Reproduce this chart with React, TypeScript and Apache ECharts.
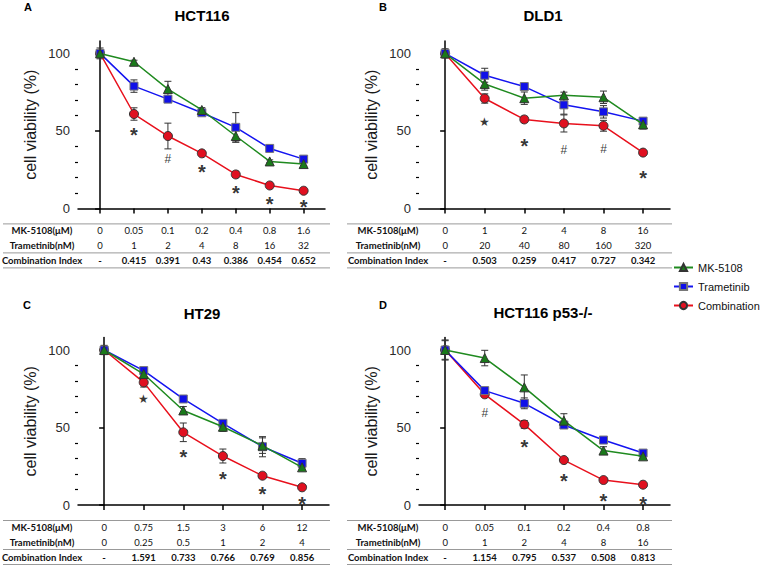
import React, { useEffect, useRef } from 'react';
import * as echarts from 'echarts';

const seriesNames = ['MK-5108', 'Trametinib', 'Combination'];
const panelLetters = ['A', 'B', 'C', 'D'];
const panelTitles = ['HCT116', 'DLD1', 'HT29', 'HCT116 p53-/-'];
const rowLabels = ['MK-5108(μM)', 'Trametinib(nM)', 'Combination Index'];
const yTickLabels = [0, 50, 100];
const yMinorTicks = [10, 20, 30, 40, 60, 70, 80, 90];

// Panel A: HCT116
const aMK = [100, 94.6, 77, 63.5, 46.7, 30.3, 28.6];
const aMKErr = [1, 1, 5, 1.5, 4, 1, 1];
const aTra = [100, 78.9, 70.5, 61.7, 52.3, 38.7, 31.8];
const aTraErr = [3.5, 4, 1.5, 1.5, 9.5, 2, 1.5];
const aCom = [100, 60.9, 46.7, 35.5, 21.9, 14.8, 11.4];
const aComErr = [1, 4, 8.3, 1, 2, 1, 1];
const aMarks = ['', '*', '#', '*', '*', '*', '*'];
const aMarkY = [0, 50.5, 31.6, 27, 13, 6, 4];
const aMKDoses = ['0', '0.05', '0.1', '0.2', '0.4', '0.8', '1.6'];
const aTraDoses = ['0', '1', '2', '4', '8', '16', '32'];
const aCI = ['-', '0.415', '0.391', '0.43', '0.386', '0.454', '0.652'];

// Panel B: DLD1
const bMK = [100, 80.3, 71.1, 73, 71.7, 54.2];
const bMKErr = [2, 4, 4, 2, 4, 3];
const bTra = [100, 85.9, 78.6, 66.8, 62.3, 56.3];
const bTraErr = [3, 4.5, 2, 6, 4, 2];
const bCom = [100, 70.9, 57.4, 54.8, 53.3, 36];
const bComErr = [1, 3, 2, 5.5, 3.5, 1];
const bMarks = ['', '★', '*', '#', '#', '*'];
const bMarkY = [0, 55.7, 43.5, 38, 38.5, 23];
const bMKDoses = ['0', '1', '2', '4', '8', '16'];
const bTraDoses = ['0', '20', '40', '80', '160', '320'];
const bCI = ['-', '0.503', '0.259', '0.417', '0.727', '0.342'];

// Panel C: HT29
const cMK = [100, 84.5, 61, 50.5, 38.3, 24.3];
const cMKErr = [1.5, 2, 2.5, 3, 5, 2];
const cTra = [100, 86.7, 68.4, 52.7, 37.6, 26.9];
const cTraErr = [3, 2, 2, 2, 6.5, 3];
const cCom = [100, 79.1, 46.9, 31.6, 18.9, 11.4];
const cComErr = [1, 3, 6, 4.5, 1.5, 1];
const cMarks = ['', '★', '*', '*', '*', '*'];
const cMarkY = [0, 68.2, 34.4, 19.8, 10.1, 3.7];
const cMKDoses = ['0', '0.75', '1.5', '3', '6', '12'];
const cTraDoses = ['0', '0.25', '0.5', '1', '2', '4'];
const cCI = ['-', '1.591', '0.733', '0.766', '0.769', '0.856'];

// Panel D: HCT116 p53-/-
const dMK = [100, 94.8, 75.9, 54.4, 35.1, 31.4];
const dMKErr = [6.5, 5, 8, 4.5, 2.5, 1.5];
const dTra = [100, 73.8, 65.6, 51.6, 41.9, 33.5];
const dTraErr = [6, 2, 3.5, 2, 1.5, 1.5];
const dCom = [100, 71.4, 52, 29, 16.1, 13.1];
const dComErr = [1, 1.5, 2.5, 1.5, 1.5, 1];
const dMarks = ['', '#', '*', '*', '*', '*'];
const dMarkY = [0, 59.6, 40.4, 18.7, 5.8, 3.7];
const dMKDoses = ['0', '0.05', '0.1', '0.2', '0.4', '0.8'];
const dTraDoses = ['0', '1', '2', '4', '8', '16'];
const dCI = ['-', '1.154', '0.795', '0.537', '0.508', '0.813'];

const panels = [
  { mk: aMK, mkErr: aMKErr, tra: aTra, traErr: aTraErr, com: aCom, comErr: aComErr, marks: aMarks, markY: aMarkY, mkDoses: aMKDoses, traDoses: aTraDoses, ci: aCI },
  { mk: bMK, mkErr: bMKErr, tra: bTra, traErr: bTraErr, com: bCom, comErr: bComErr, marks: bMarks, markY: bMarkY, mkDoses: bMKDoses, traDoses: bTraDoses, ci: bCI },
  { mk: cMK, mkErr: cMKErr, tra: cTra, traErr: cTraErr, com: cCom, comErr: cComErr, marks: cMarks, markY: cMarkY, mkDoses: cMKDoses, traDoses: cTraDoses, ci: cCI },
  { mk: dMK, mkErr: dMKErr, tra: dTra, traErr: dTraErr, com: dCom, comErr: dComErr, marks: dMarks, markY: dMarkY, mkDoses: dMKDoses, traDoses: dTraDoses, ci: dCI },
];

// layout (pixels)
const layout = [
  { left: 78, top: 41, width: 247, xMin: -0.65, xMax: 6.63, tableL: 3, tableR: 330, labelX: 42, letterX: 28, letterY: 7, titleX: 202, titleY: 15 },
  { left: 419, top: 41, width: 251, xMin: -0.66, xMax: 5.68, tableL: 347, tableR: 672, labelX: 388, letterX: 383, letterY: 7, titleX: 543, titleY: 15 },
  { left: 78, top: 337.6, width: 251, xMin: -0.66, xMax: 5.68, tableL: 3, tableR: 330, labelX: 42, letterX: 27, letterY: 305, titleX: 202, titleY: 313 },
  { left: 419, top: 337.6, width: 251, xMin: -0.66, xMax: 5.68, tableL: 347, tableR: 672, labelX: 388, letterX: 383, letterY: 305, titleX: 543, titleY: 312 },
];
const Y_MAX = 108;
const GRID_H = 167.4;

const lineColors = ['#1f8a1f', '#1414f0', '#e8101c'];
const fillColors = ['#1a7a1a', '#1010e8', '#e01020'];
const symbols = ['triangle', 'rect', 'circle'];
const FONT = '"Liberation Sans", Arial, sans-serif';
const TFONT = 'Lato, "Open Sans", sans-serif';

export default function App() {
  const ref = useRef<HTMLDivElement>(null);
  useEffect(() => {
    if (!ref.current) return;
    const chart = echarts.init(ref.current, undefined, { renderer: 'svg' });
    const grid: any[] = [];
    const xAxis: any[] = [];
    const yAxis: any[] = [];
    const series: any[] = [];
    panels.forEach((p, i) => {
      const L = layout[i];
      const n = p.mk.length;
      grid.push({ left: L.left, top: L.top, width: L.width, height: GRID_H, containLabel: false });
      xAxis.push({
        gridIndex: i, type: 'value', min: L.xMin, max: L.xMax,
        axisLine: { show: true, lineStyle: { color: '#000', width: 1.5 } },
        axisTick: { show: true, length: 5, customValues: Array.from({ length: n }, (_, k) => k), lineStyle: { color: '#000', width: 1.5 } },
        axisLabel: { show: false }, splitLine: { show: false },
      });
      yAxis.push({
        gridIndex: i, type: 'value', min: 0, max: Y_MAX, position: 'left',
        axisLine: { show: true, lineStyle: { color: '#000', width: 1.5 } },
        axisTick: { show: true, length: 5, customValues: yTickLabels, lineStyle: { color: '#000', width: 1.5 } },
        axisLabel: { show: true, customValues: yTickLabels, fontSize: 13, color: '#2a2a2a', margin: 8, fontFamily: FONT },
        splitLine: { show: false },
        name: 'cell viability (%)', nameLocation: 'middle', nameGap: 40,
        nameTextStyle: { fontSize: 16, color: '#1a1a1a', fontFamily: FONT },
      });
      yAxis.push({
        gridIndex: i, type: 'value', min: 0, max: Y_MAX, position: 'left',
        axisLine: { show: false },
        axisTick: { show: true, length: 3, customValues: yMinorTicks, lineStyle: { color: '#000', width: 1.2 } },
        axisLabel: { show: false }, splitLine: { show: false },
      });
      const vals = [p.mk, p.tra, p.com];
      const errs = [p.mkErr, p.traErr, p.comErr];
      // error bars
      [2, 1, 0].forEach((s) => {
        series.push({
          type: 'custom', xAxisIndex: i, yAxisIndex: 2 * i, z: 1, silent: true,
          data: vals[s].map((v, k) => [k, v - errs[s][k], v + errs[s][k]]),
          encode: { x: 0, y: [1, 2] },
          renderItem: (params: any, api: any) => {
            const x = api.value(0);
            const lo = api.coord([x, api.value(1)]);
            const hi = api.coord([x, api.value(2)]);
            const w = 3.5;
            const st = { stroke: '#333', lineWidth: 1 };
            return {
              type: 'group', children: [
                { type: 'line', shape: { x1: hi[0], y1: hi[1], x2: lo[0], y2: lo[1] }, style: st },
                { type: 'line', shape: { x1: hi[0] - w, y1: hi[1], x2: hi[0] + w, y2: hi[1] }, style: st },
                { type: 'line', shape: { x1: lo[0] - w, y1: lo[1], x2: lo[0] + w, y2: lo[1] }, style: st },
              ],
            };
          },
        });
      });
      // lines: red, blue, green order
      [2, 1, 0].forEach((s) => {
        series.push({
          type: 'line', name: seriesNames[s], xAxisIndex: i, yAxisIndex: 2 * i, z: 2 + (2 - s),
          data: vals[s].map((v, k) => [k, v]),
          symbol: symbols[s], symbolSize: s === 1 ? 8 : 9,
          lineStyle: { color: lineColors[s], width: 1.5 },
          itemStyle: { color: fillColors[s], borderColor: s === 1 ? '#777' : '#333', borderWidth: 1 },
        });
      });
      // significance marks
      series.push({
        type: 'scatter', xAxisIndex: i, yAxisIndex: 2 * i, z: 6, silent: true,
        symbolSize: 1, itemStyle: { color: 'rgba(0,0,0,0)' },
        data: p.marks.map((m, k) => (m ? {
          value: [k, p.markY[k], m],
          label: m === '*' ? { fontSize: 20, fontWeight: 'bold', offset: [0, 5] } : m === '★' ? { fontSize: 12 } : { fontSize: 12 },
        } : null)).filter((d) => d),
        label: { show: true, position: 'inside', color: '#000', fontFamily: FONT, formatter: (q: any) => q.value[2] },
      });
    });

    chart.setOption({
      animation: false,
      backgroundColor: '#fff',
      grid, xAxis, yAxis, series,
      legend: {
        orient: 'vertical', left: 673, top: 262, itemWidth: 19, itemHeight: 9, itemGap: 8, padding: 0,
        data: seriesNames, selectedMode: false,
        textStyle: { fontSize: 11, color: '#111', fontFamily: FONT },
      },
    });

    const graphic: any[] = [];
    panels.forEach((p, i) => {
      const L = layout[i];
      graphic.push({ type: 'text', x: L.letterX, y: L.letterY, style: { text: panelLetters[i], font: `bold 11px ${FONT}`, fill: '#000', textAlign: 'center', textVerticalAlign: 'middle', align: 'center', verticalAlign: 'middle' } });
      graphic.push({ type: 'text', x: L.titleX, y: L.titleY, style: { text: panelTitles[i], font: `bold 15px ${FONT}`, fill: '#000', textAlign: 'center', textVerticalAlign: 'middle', align: 'center', verticalAlign: 'middle' } });
      const base = L.top + GRID_H;
      const rowsY = [base + 22.5, base + 37, base + 52];
      const linesY = [base + 15.5, base + 44.5, base + 59.5];
      linesY.forEach((ly) => {
        graphic.push({ type: 'line', shape: { x1: L.tableL, y1: ly, x2: L.tableR, y2: ly }, style: { stroke: '#999', lineWidth: 1 } });
      });
      const rows = [p.mkDoses, p.traDoses, p.ci];
      rows.forEach((row, r) => {
        graphic.push({ type: 'text', x: L.labelX, y: rowsY[r], style: { text: rowLabels[r], font: `bold 9.5px ${TFONT}`, fill: '#111', textAlign: 'center', textVerticalAlign: 'middle', align: 'center', verticalAlign: 'middle' } });
        row.forEach((v, k) => {
          const px = chart.convertToPixel({ xAxisIndex: i } as any, k) as any;
          graphic.push({ type: 'text', x: px, y: rowsY[r], style: { text: v, font: `${r === 2 ? 'bold ' : ''}9.5px ${TFONT}`, fill: '#111', textAlign: 'center', textVerticalAlign: 'middle', align: 'center', verticalAlign: 'middle' } });
        });
      });
    });
    chart.setOption({ graphic });

    return () => chart.dispose();
  }, []);
  return <div ref={ref} style={{ width: 765, height: 570, position: 'fixed', left: 0, top: 0, background: '#fff' }} />;
}
